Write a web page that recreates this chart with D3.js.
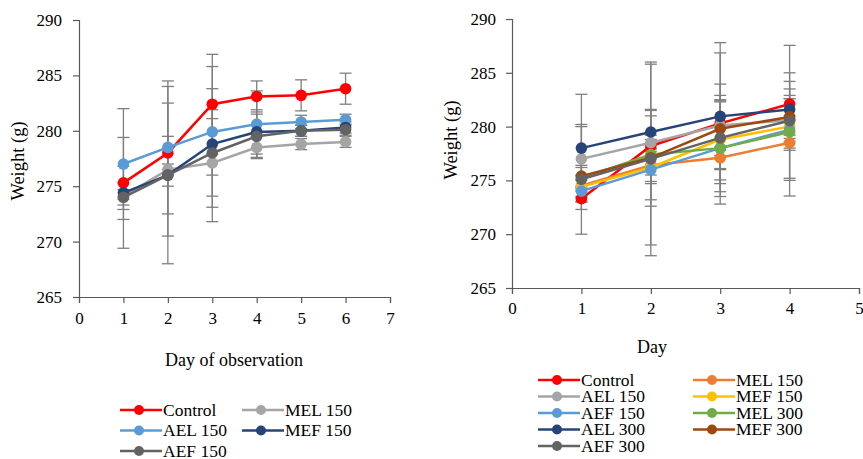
<!DOCTYPE html>
<html><head><meta charset="utf-8">
<script src="https://cdn.jsdelivr.net/npm/d3@7"></script>
<style>body{margin:0;background:#fff}text{font-family:"Liberation Serif","Times New Roman",serif;fill:#000}</style>
</head><body><svg id="c" width="863" height="459"></svg>
<script>
// ---------- Left chart data ----------
const leftDays = [1, 2, 3, 4, 5, 6];
const leftNames = ["Control", "MEL 150", "AEL 150", "MEF 150", "AEF 150"];
const leftColors = ["#FF0000", "#A5A5A5", "#5B9BD5", "#264478", "#636363"];
const leftControl = [275.3, 278.0, 282.4, 283.1, 283.2, 283.8];
const leftMEL150 = [274.1, 276.5, 277.1, 278.5, 278.8, 279.0];
const leftAEL150 = [277.0, 278.5, 279.9, 280.6, 280.8, 281.0];
const leftMEF150 = [274.4, 276.0, 278.8, 279.9, 280.0, 280.3];
const leftAEF150 = [274.0, 276.0, 278.0, 279.5, 280.0, 280.1];
const leftErrControl = [1.5, 1.5, 4.5, 1.4, 1.4, 1.4];
const leftErrMEL150 = [1.2, 6.0, 4.0, 1.0, 0.5, 0.5];
const leftErrAEL150 = [5.0, 6.0, 3.9, 3.0, 0.6, 0.5];
const leftErrMEF150 = [5.0, 8.0, 7.0, 2.0, 0.5, 0.5];
const leftErrAEF150 = [0.7, 1.0, 3.9, 2.0, 0.5, 0.5];
const leftXTicks = [0, 1, 2, 3, 4, 5, 6, 7];
const yTicks = [265, 270, 275, 280, 285, 290];

// ---------- Right chart data ----------
const rightDays = [1, 2, 3, 4];
const rightNames = ["Control", "MEL 150", "AEL 150", "MEF 150", "AEF 150", "MEL 300", "AEL 300", "MEF 300", "AEF 300"];
const rightColors = ["#FF0000", "#ED7D31", "#A5A5A5", "#FFC000", "#5B9BD5", "#70AD47", "#264478", "#9E480E", "#636363"];
const rControl = [273.3, 278.2, 280.3, 282.1];
const rMEL150 = [274.5, 276.4, 277.1, 278.5];
const rAEL150 = [277.0, 278.5, 280.1, 280.6];
const rMEF150 = [274.4, 276.2, 278.8, 280.0];
const rAEF150 = [274.0, 276.0, 278.0, 279.7];
const rMEL300 = [275.2, 277.4, 278.0, 279.5];
const rAEL300 = [278.0, 279.5, 280.95, 281.6];
const rMEF300 = [275.4, 277.1, 279.8, 280.9];
const rAEF300 = [275.1, 277.0, 278.95, 280.55];
const rErrControl = [1.0, 1.0, 7.5, 1.4];
const rErrMEL150 = [1.0, 1.5, 1.0, 0.7];
const rErrAEL150 = [3.0, 3.0, 2.3, 2.0];
const rErrMEF150 = [1.0, 1.5, 4.1, 5.0];
const rErrAEF150 = [1.0, 2.8, 2.0, 4.5];
const rErrMEL300 = [1.0, 8.4, 4.5, 1.5];
const rErrAEL300 = [5.0, 1.5, 5.9, 1.0];
const rErrMEF300 = [1.0, 4.5, 2.5, 2.0];
const rErrAEF300 = [5.1, 9.0, 5.0, 7.0];
const rightXTicks = [0, 1, 2, 3, 4, 5];

const svg = d3.select("#c");
const SERIF = '"Liberation Serif","Times New Roman",serif';

function drawChart(cfg) {
  const x = d3.scaleLinear().domain(cfg.xDomain).range(cfg.xRange);
  const y = d3.scaleLinear().domain([265, 290]).range(cfg.yRange);
  const g = svg.append("g");
  // axes
  const xa = g.append("g").attr("transform", `translate(0,${cfg.yRange[0]})`)
    .call(d3.axisBottom(x).tickValues(cfg.xTicks).tickSize(6).tickPadding(cfg.xPad).tickFormat(d3.format("d")));
  const ya = g.append("g").attr("transform", `translate(${cfg.xRange[0]},0)`)
    .call(d3.axisLeft(y).tickValues(yTicks).tickSize(6).tickPadding(cfg.yPad).tickFormat(d3.format("d")));
  [xa, ya].forEach(a => {
    a.attr("font-family", SERIF);
    a.selectAll("path,line").attr("stroke", "#595959").attr("stroke-width", 1.2);
    a.selectAll("text").style("font-size", "17px").attr("fill", "#000").style("font-family", SERIF);
  });
  // error bars
  const eg = g.append("g");
  cfg.series.forEach(s => {
    s.vals.forEach((v, i) => {
      const e = s.err[i], cx = x(cfg.days[i]);
      eg.append("line").attr("x1", cx).attr("x2", cx).attr("y1", y(v - e)).attr("y2", y(v + e))
        .attr("stroke", "#7f7f7f").attr("stroke-width", 1.3);
      [v - e, v + e].forEach(t => eg.append("line").attr("x1", cx - 6).attr("x2", cx + 6)
        .attr("y1", y(t)).attr("y2", y(t)).attr("stroke", "#7f7f7f").attr("stroke-width", 1.3));
    });
  });
  // lines and markers
  const line = d3.line().x((d, i) => x(cfg.days[i])).y(d => y(d));
  cfg.series.forEach(s => {
    g.append("path").attr("d", line(s.vals)).attr("fill", "none").attr("stroke", s.color).attr("stroke-width", 2.5);
    g.selectAll(null).data(s.vals).enter().append("circle")
      .attr("cx", (d, i) => x(cfg.days[i])).attr("cy", d => y(d)).attr("r", 5.8).attr("fill", s.color);
  });
  // titles
  g.append("text").attr("transform", `translate(${cfg.yLabelX},${cfg.yLabelY}) rotate(-90)`)
    .attr("text-anchor", "middle").style("font-size", "18.5px").style("font-family", SERIF).text("Weight (g)");
  g.append("text").attr("x", cfg.xLabelX).attr("y", cfg.xLabelY).attr("text-anchor", "middle")
    .style("font-size", "18px").style("font-family", SERIF).text(cfg.xTitle);
  // legend
  cfg.series.forEach((s, i) => {
    const col = i % 2, row = Math.floor(i / 2);
    const lx = cfg.legX + col * cfg.legColW, ly = cfg.legY + row * cfg.legRowH;
    g.append("line").attr("x1", lx).attr("x2", lx + 42).attr("y1", ly).attr("y2", ly)
      .attr("stroke", s.color).attr("stroke-width", 2.5);
    g.append("circle").attr("cx", lx + 19).attr("cy", ly).attr("r", 5).attr("fill", s.color);
    g.append("text").attr("x", lx + 43).attr("y", ly + 5.5).style("font-size", "17.5px")
      .style("font-family", SERIF).text(s.name);
  });
}

const leftVals = [leftControl, leftMEL150, leftAEL150, leftMEF150, leftAEF150];
const leftErrs = [leftErrControl, leftErrMEL150, leftErrAEL150, leftErrMEF150, leftErrAEF150];
drawChart({
  xDomain: [0, 7], xRange: [79, 390], yRange: [297, 20], xTicks: leftXTicks, days: leftDays,
  xPad: 9, yPad: 11,
  series: leftNames.map((n, i) => ({ name: n, color: leftColors[i], vals: leftVals[i], err: leftErrs[i] })),
  yLabelX: 24, yLabelY: 161, xLabelX: 234, xLabelY: 366, xTitle: "Day of observation",
  legX: 120, legY: 410, legColW: 122, legRowH: 20.5
});

const rVals = [rControl, rMEL150, rAEL150, rMEF150, rAEF150, rMEL300, rAEL300, rMEF300, rAEF300];
const rErrs = [rErrControl, rErrMEL150, rErrAEL150, rErrMEF150, rErrAEF150, rErrMEL300, rErrAEL300, rErrMEF300, rErrAEF300];
drawChart({
  xDomain: [0, 5], xRange: [512, 859], yRange: [288, 19], xTicks: rightXTicks, days: rightDays,
  xPad: 8, yPad: 10,
  series: rightNames.map((n, i) => ({ name: n, color: rightColors[i], vals: rVals[i], err: rErrs[i] })),
  yLabelX: 457, yLabelY: 140, xLabelX: 652, xLabelY: 353, xTitle: "Day",
  legX: 538, legY: 380, legColW: 155, legRowH: 16.5
});
</script></body></html>
